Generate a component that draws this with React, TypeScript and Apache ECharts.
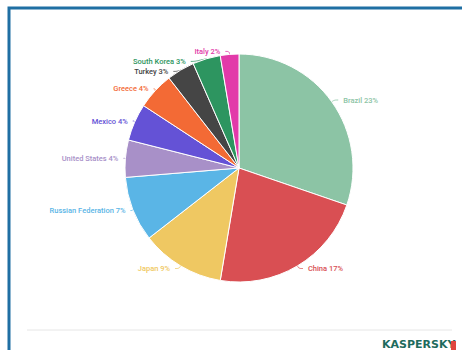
import React, { useEffect, useRef } from "react";
import * as echarts from "echarts";

const countries = [
  "Brazil",
  "China",
  "Japan",
  "Russian Federation",
  "United States",
  "Mexico",
  "Greece",
  "Turkey",
  "South Korea",
  "Italy",
];
const shares = [23, 17, 9, 7, 4, 4, 4, 3, 3, 2];
const colors = [
  "#8cc4a5",
  "#d94f53",
  "#efc862",
  "#5ab5e6",
  "#a890c8",
  "#6452d6",
  "#f36a35",
  "#454545",
  "#2d9560",
  "#e23aa9",
];

export default function App() {
  const ref = useRef<HTMLDivElement>(null);
  useEffect(() => {
    if (!ref.current) return;
    const chart = echarts.init(ref.current, undefined, { renderer: "svg" });
    chart.setOption({
      animation: false,
      backgroundColor: "#ffffff",
      graphic: [
        {
          type: "rect",
          shape: { x: 9, y: 8, width: 480, height: 380 },
          style: { fill: "none", stroke: "#1f6fa3", lineWidth: 3 },
          silent: true,
        },
        {
          type: "line",
          shape: { x1: 27, y1: 330, x2: 452, y2: 330 },
          style: { stroke: "#e6e6e6", lineWidth: 1 },
          silent: true,
        },
        {
          type: "text",
          x: 382,
          y: 339,
          style: {
            text: "KASPERSKY",
            fill: "#1e6b5d",
            font: "bold 11px 'DejaVu Sans', sans-serif",
          },
          silent: true,
        },
        {
          type: "rect",
          shape: { x: 451, y: 341, width: 5, height: 9 },
          style: { fill: "#e0463f" },
          silent: true,
        },
      ],
      series: [
        {
          type: "pie",
          center: [239, 168],
          radius: [0, 114],
          startAngle: 90,
          clockwise: true,
          avoidLabelOverlap: true,
          itemStyle: { borderColor: "#ffffff", borderWidth: 1 },
          label: {
            show: true,
            position: "outside",
            formatter: "{b} {c}%",
            fontFamily: "Roboto, sans-serif",
            fontSize: 7.5,
            fontWeight: 500,
            color: "inherit",
          },
          labelLine: {
            show: true,
            length: 3,
            length2: 4,
            smooth: 0.4,
            lineStyle: { width: 0.8 },
          },
          data: countries.map((name, i) => ({
            name,
            value: shares[i],
            itemStyle: { color: colors[i] },
            label: { color: colors[i] },
          })),
        },
      ],
    });
    return () => chart.dispose();
  }, []);
  return (
    <div
      ref={ref}
      style={{ position: "fixed", left: 0, top: 0, width: 462, height: 350 }}
    />
  );
}
